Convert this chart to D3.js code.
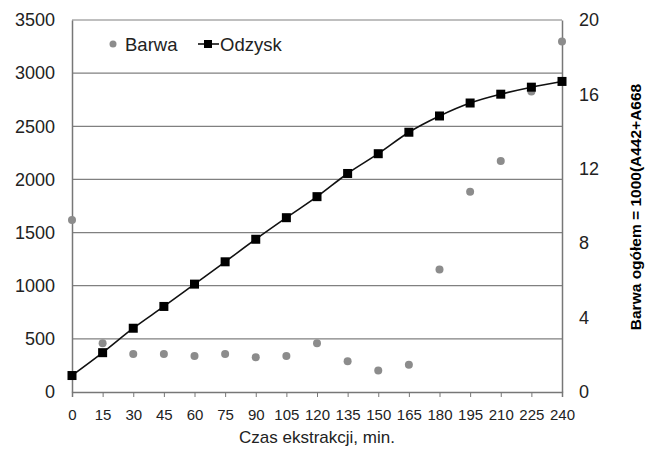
<!DOCTYPE html>
<html>
<head>
<meta charset="utf-8">
<script src="https://cdn.jsdelivr.net/npm/d3@7"></script>
<style>
  body { margin: 0; background: #fff; }
  text { font-family: "Liberation Sans", Arial, sans-serif; fill: #222; }
</style>
</head>
<body>
<div id="chart"></div>
<script>
// Data
const minutes = [0, 15, 30, 45, 60, 75, 90, 105, 120, 135, 150, 165, 180, 195, 210, 225, 240];
const odzysk = [155, 370, 600, 805, 1015, 1225, 1437, 1640, 1838, 2056, 2242, 2444, 2597, 2719, 2802, 2868, 2922];
const barwa = [9.25, 2.62, 2.04, 2.04, 1.94, 2.04, 1.87, 1.94, 2.62, 1.65, 1.15, 1.47, 6.58, 10.77, 12.42, 16.15, 18.85];
const leftTicks = [0, 500, 1000, 1500, 2000, 2500, 3000, 3500];
const rightTicks = [0, 4, 8, 12, 16, 20];

const W = 646, H = 454;
const margin = { top: 20, right: 84, bottom: 62, left: 72 };
const width = W - margin.left - margin.right;
const height = H - margin.top - margin.bottom;

const svg = d3.select("#chart").append("svg")
  .attr("width", W)
  .attr("height", H);

const g = svg.append("g")
  .attr("transform", "translate(" + margin.left + "," + margin.top + ")");

// Scales
const x = d3.scaleLinear().domain([0, 240]).range([0, width]);
const yL = d3.scaleLinear().domain([0, 3500]).range([height, 0]);
const yR = d3.scaleLinear().domain([0, 20]).range([height, 0]);

// Gridlines
g.selectAll(".grid")
  .data(leftTicks.filter(d => d > 0))
  .enter().append("line")
  .attr("x1", 0).attr("x2", width)
  .attr("y1", d => yL(d)).attr("y2", d => yL(d))
  .attr("stroke", "#808080")
  .attr("stroke-width", 1.2);

// Left axis
const axL = g.append("g")
  .call(d3.axisLeft(yL).tickValues(leftTicks).tickFormat(d3.format("d")).tickSize(0).tickPadding(17));
axL.select(".domain").attr("stroke", "#777").attr("stroke-width", 1.5);
axL.selectAll("text").style("font-size", "18px").style("fill", "#222");

// Right axis
const axR = g.append("g")
  .attr("transform", "translate(" + width + ",0)")
  .call(d3.axisRight(yR).tickValues(rightTicks).tickSize(0).tickPadding(17));
axR.select(".domain").attr("stroke", "#777").attr("stroke-width", 1.5);
axR.selectAll("text").style("font-size", "18px").style("fill", "#222");

// Bottom axis
const axB = g.append("g")
  .attr("transform", "translate(0," + height + ")")
  .call(d3.axisBottom(x).tickValues(minutes).tickSize(5).tickPadding(12));
axB.select(".domain").attr("stroke", "#777").attr("stroke-width", 1.5);
axB.selectAll("line").attr("stroke", "#777");
axB.selectAll("text").style("font-size", "15px").style("fill", "#222");

// Barwa points
g.selectAll(".barwa")
  .data(minutes)
  .enter().append("circle")
  .attr("cx", d => x(d))
  .attr("cy", (d, i) => yR(barwa[i]))
  .attr("r", 4)
  .attr("fill", "#8c8c8c");

// Odzysk line
const line = d3.line()
  .x(d => x(d[0]))
  .y(d => yL(d[1]))
  .curve(d3.curveMonotoneX);

g.append("path")
  .datum(minutes.map((m, i) => [m, odzysk[i]]))
  .attr("fill", "none")
  .attr("stroke", "#111")
  .attr("stroke-width", 1.6)
  .attr("d", line);

g.selectAll(".odz")
  .data(minutes)
  .enter().append("rect")
  .attr("x", d => x(d) - 4.5)
  .attr("y", (d, i) => yL(odzysk[i]) - 4.5)
  .attr("width", 9)
  .attr("height", 9)
  .attr("fill", "#000");

// Legend
const leg = svg.append("g");
leg.append("circle").attr("cx", 113).attr("cy", 44).attr("r", 3.5).attr("fill", "#8c8c8c");
leg.append("text").attr("x", 125).attr("y", 51).style("font-size", "18.5px").text("Barwa");
leg.append("line").attr("x1", 198).attr("x2", 219).attr("y1", 44).attr("y2", 44)
  .attr("stroke", "#111").attr("stroke-width", 1.6);
leg.append("rect").attr("x", 204).attr("y", 40).attr("width", 8).attr("height", 8).attr("fill", "#000");
leg.append("text").attr("x", 220).attr("y", 51).style("font-size", "18.5px").text("Odzysk");

// X title
svg.append("text")
  .attr("x", margin.left + width / 2)
  .attr("y", 443)
  .attr("text-anchor", "middle")
  .style("font-size", "17px")
  .text("Czas ekstrakcji, min.");

// Right title
svg.append("text")
  .attr("transform", "translate(641,207) rotate(-90)")
  .attr("text-anchor", "middle")
  .style("font-size", "15.5px")
  .style("font-weight", "bold")
  .style("fill", "#000")
  .text("Barwa ogółem = 1000(A442+A668");
</script>
</body>
</html>
